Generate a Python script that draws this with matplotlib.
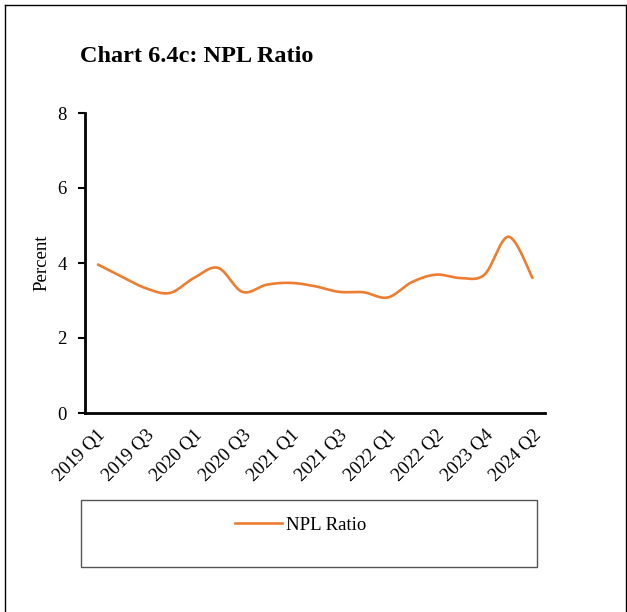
"""
NPL ratio line chart (quarterly, percent)
"""

import numpy as np
import matplotlib
matplotlib.use("Agg")
import matplotlib.pyplot as plt
from matplotlib.patches import Rectangle
from matplotlib.lines import Line2D

plt.rcParams["font.family"] = ["Liberation Serif", "DejaVu Serif"]

# Quarterly NPL ratio, percent
npl_ratio = [3.97, 3.64, 3.33, 3.20, 3.60, 3.87, 3.23, 3.42, 3.47, 3.38,
             3.23, 3.22, 3.08, 3.49, 3.69, 3.60, 3.69, 4.70, 3.58]
# Every second category is labelled on the axis
tick_labels = ["2019 Q1", "2019 Q3", "2020 Q1", "2020 Q3", "2021 Q1",
               "2021 Q3", "2022 Q1", "2022 Q2", "2023 Q4", "2024 Q2"]
y_ticks = [0, 2, 4, 6, 8]

ORANGE = "#ED7D31"
FS = 13.5


def smooth_curve(y, steps=30):
    """Catmull-Rom style smoothing through every point"""
    y = np.asarray(y, dtype=float)
    x = np.arange(len(y), dtype=float)
    px = np.concatenate([[x[0]], x, [x[-1]]])
    py = np.concatenate([[y[0]], y, [y[-1]]])
    xs, ys = [], []
    for i in range(1, len(px) - 2):
        p0, p1, p2, p3 = (np.array([px[j], py[j]]) for j in (i - 1, i, i + 1, i + 2))
        c1 = p1 + (p2 - p0) / 6.0
        c2 = p2 - (p3 - p1) / 6.0
        t = np.linspace(0, 1, steps, endpoint=(i == len(px) - 3))
        pts = ((1 - t) ** 3)[:, None] * p1 + (3 * (1 - t) ** 2 * t)[:, None] * c1 \
            + (3 * (1 - t) * t ** 2)[:, None] * c2 + (t ** 3)[:, None] * p2
        xs.append(pts[:, 0])
        ys.append(pts[:, 1])
    return np.concatenate(xs), np.concatenate(ys)


fig = plt.figure(figsize=(6.27, 6.12), dpi=100)
W, H = 627, 612

# outer frame
fig.add_artist(Line2D([5 / W, 5 / W], [0, 1 - 5 / H], color="black", lw=1.0))
fig.add_artist(Line2D([5 / W, 626 / W], [1 - 5 / H, 1 - 5 / H], color="black", lw=1.0))
fig.add_artist(Line2D([626 / W, 626 / W], [0, 1 - 5 / H], color="black", lw=1.0))

fig.text(80 / W, 1 - 57 / H, "Chart 6.4c: NPL Ratio", fontsize=17.5,
         fontweight="bold", ha="left", va="center")

ax = fig.add_axes([85 / W, 1 - 413 / H, 460 / W, 300 / H])
n = len(npl_ratio)
sx, sy = smooth_curve(npl_ratio)
ax.plot(sx, sy, color=ORANGE, lw=1.9, solid_capstyle="butt")

ax.set_xlim(-0.5, n - 0.5)
ax.set_ylim(0, 8)
ax.set_yticks(y_ticks)
ax.set_yticklabels([str(v) for v in y_ticks], fontsize=FS)
ax.set_xticks(range(0, n, 2))
ax.set_xticklabels(tick_labels, fontsize=FS, rotation=45, ha="right",
                   rotation_mode="anchor")
ax.tick_params(axis="x", length=0, pad=10)
ax.tick_params(axis="y", length=5, width=1.5, direction="out", pad=8)
ax.text(-43.5 / 460, 0.5, "Percent", fontsize=FS, rotation=90,
        ha="center", va="center", transform=ax.transAxes)

for side in ["top", "right"]:
    ax.spines[side].set_visible(False)
for side in ["left", "bottom"]:
    ax.spines[side].set_linewidth(2)

# legend box
fig.add_artist(Rectangle((81 / W, 1 - 567 / H), 456 / W, 67 / H,
                         transform=fig.transFigure, fill=False,
                         edgecolor="#555555", lw=1.0))
handle = Line2D([], [], color=ORANGE, lw=1.9)
fig.legend([handle], ["NPL Ratio"], loc="center left",
           bbox_to_anchor=(235 / W, 1 - 525 / H), frameon=False,
           fontsize=FS, handlelength=2.5, handletextpad=0.2,
           borderpad=0, borderaxespad=0)

fig.savefig("out.png", dpi=100)
